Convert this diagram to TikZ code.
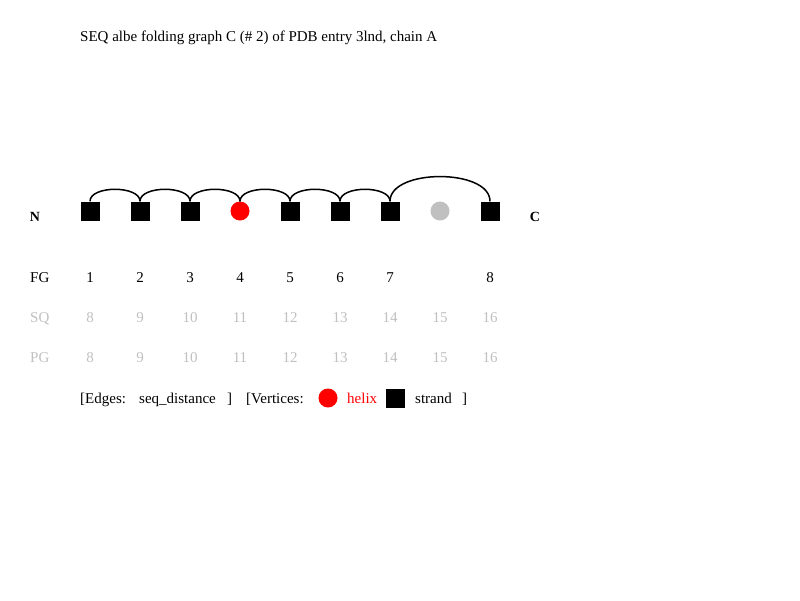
\documentclass[tikz,border=0pt]{standalone}
\usepackage{fontspec}
\setmainfont{Liberation Serif}
\usetikzlibrary{calc}
\definecolor{light_gray}{HTML}{C0C0C0}

\begin{document}
\begin{tikzpicture}[x=1pt,y=-1pt,
    every node/.style={font=\fontsize{15}{17}\selectfont, inner sep=0pt},
    strand/.style={fill=black, minimum size=19pt},
    helix/.style={circle, fill=red, minimum size=19pt},
    missing/.style={circle, fill=light_gray, minimum size=19pt},
    seqedge/.style={line width=1.5pt}]

    % Cadre de l'image
    \useasboundingbox (0,0) rectangle (800,600);

    % Titre
    \node[anchor=base west] (title) at (80,41) {SEQ albe folding graph C (\# 2) of PDB entry 3lnd, chain A};

    % Sommets du graphe
    \node[strand] (v1) at (90,211) {};
    \node[strand] (v2) at (140,211) {};
    \node[strand] (v3) at (190,211) {};
    \node[helix] (v4) at (240,211) {};
    \node[strand] (v5) at (290,211) {};
    \node[strand] (v6) at (340,211) {};
    \node[strand] (v7) at (390,211) {};
    \node[missing] (v8) at (440,211) {};
    \node[strand] (v9) at (490,211) {};

    % Extremites N et C
    \node[anchor=base, font=\fontsize{14}{16}\selectfont\bfseries] (nterm) at (35,221) {N};
    \node[anchor=base, font=\fontsize{14}{16}\selectfont\bfseries] (cterm) at (535,221) {C};

    % Aretes (distance de sequence)
    \draw[seqedge] (v1.north) .. controls +(0,-16) and +(0,-16) .. (v2.north);
    \draw[seqedge] (v2.north) .. controls +(0,-16) and +(0,-16) .. (v3.north);
    \draw[seqedge] (v3.north) .. controls +(0,-16) and +(0,-16) .. (v4.north);
    \draw[seqedge] (v4.north) .. controls +(0,-16) and +(0,-16) .. (v5.north);
    \draw[seqedge] (v5.north) .. controls +(0,-16) and +(0,-16) .. (v6.north);
    \draw[seqedge] (v6.north) .. controls +(0,-16) and +(0,-16) .. (v7.north);
    \draw[seqedge] (v7.north) .. controls +(0,-33) and +(0,-33) .. (v9.north);

    % Lignes FG, SQ et PG
    \node[anchor=base west] (fg) at (30,282) {FG};
    \node[anchor=base west, light_gray] (sq) at (30,322) {SQ};
    \node[anchor=base west, light_gray] (pg) at (30,362) {PG};
    \foreach \i/\x/\f in {1/90/1,2/140/2,3/190/3,4/240/4,5/290/5,6/340/6,7/390/7,9/490/8}
        \node[anchor=base] (fg\i) at (\x,282) {\f};
    \foreach \i/\x in {1/90,2/140,3/190,4/240,5/290,6/340,7/390,8/440,9/490} {
        \pgfmathtruncatemacro{\num}{\i+7}
        \node[anchor=base, light_gray] (sq\i) at (\x,322) {\num};
        \node[anchor=base, light_gray] (pg\i) at (\x,362) {\num};
    }

    % Legende
    \node[anchor=base west] (edges) at (80,403) {[Edges:};
    \node[anchor=base west] (edgetype) at (139,403) {seq\_distance};
    \node[anchor=base west] (edgeend) at (227,403) {]};
    \node[anchor=base west] (vertices) at (246,403) {[Vertices:};
    \node[helix] (lhelix) at (328,398) {};
    \node[anchor=base west, red] (lhelixtext) at (347,403) {helix};
    \node[strand] (lstrand) at (395,398) {};
    \node[anchor=base west] (lstrandtext) at (415,403) {strand};
    \node[anchor=base west] (legendend) at (462,403) {]};
\end{tikzpicture}
\end{document}
